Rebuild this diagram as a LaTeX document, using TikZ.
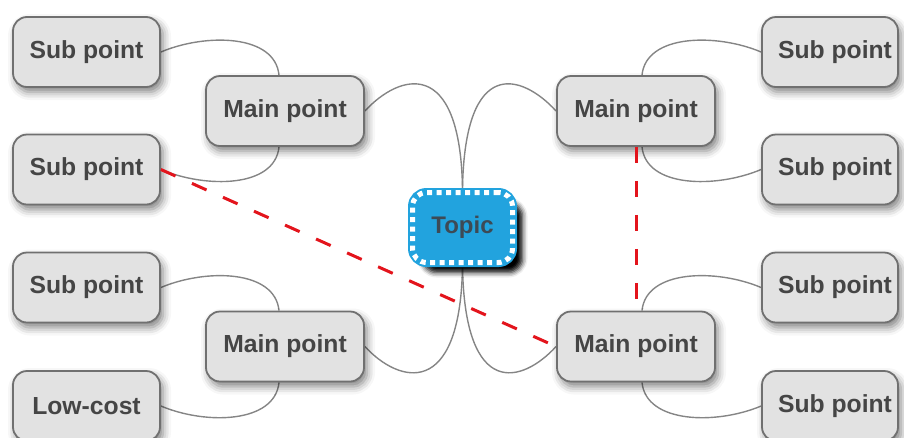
\documentclass[tikz,border=0pt]{standalone}
\usepackage{fontspec}
\setmainfont{Liberation Sans}
\usetikzlibrary{shadows.blur}
\definecolor{boxfill}{HTML}{E2E2E2}
\definecolor{boxline}{HTML}{707070}
\definecolor{boxtext}{HTML}{454545}
\definecolor{topicblue}{HTML}{22A3DE}
\definecolor{topictext}{HTML}{3D4A55}
\definecolor{linkgray}{HTML}{858585}
\definecolor{relred}{HTML}{E3141C}
\pgfdeclarelayer{bg}
\pgfsetlayers{bg,main}
\begin{document}
\begin{tikzpicture}[x=1pt,y=-1pt,
  box/.style={draw=boxline, line width=1.8pt, fill=boxfill, rounded corners=14pt,
    minimum height=70pt, inner sep=0pt, text=boxtext,
    font=\fontsize{24.7}{28}\selectfont\bfseries,
    blur shadow={shadow xshift=3pt, shadow yshift=-5pt, shadow blur radius=8pt, shadow opacity=50}},
  subbox/.style={box, minimum width=147pt},
  subboxr/.style={box, minimum width=136pt},
  mainbox/.style={box, minimum width=158pt},
  topicbox/.style={fill=topicblue, draw=topicblue, line width=9pt, rounded corners=14pt,
    minimum width=100pt, minimum height=70pt, inner sep=0pt, text=topictext,
    font=\fontsize{24}{28}\selectfont\bfseries,
    blur shadow={shadow xshift=10pt, shadow yshift=-10pt, shadow opacity=100, shadow blur radius=5pt},
    postaction={draw=white, line width=5pt, dash pattern=on 5pt off 4.5pt}},
  link/.style={draw=linkgray, line width=1.4pt},
  rel/.style={draw=relred, line width=3pt, dash pattern=on 16pt off 18pt}]
\useasboundingbox (0,0) rectangle (904,437);

% main points
\node[mainbox] (lm)  at (285,111)   {Main point};
\node[mainbox] (lbm) at (285,346.5) {Main point};
\node[mainbox] (rm)  at (636,111)   {Main point};
\node[mainbox] (rbm) at (636,346.5) {Main point};

% sub points left
\node[subbox] (s1) at (86.5,52)    {Sub point};
\node[subbox] (s2) at (86.5,169.5) {Sub point};
\node[subbox] (s3) at (86.5,287.5) {Sub point};
\node[subbox] (s4) at (86.5,406)   {Low-cost};

% sub points right
\node[subboxr] (r1) at (830,52)    {\hspace*{10pt}Sub point};
\node[subboxr] (r2) at (830,169.5) {\hspace*{10pt}Sub point};
\node[subboxr] (r3) at (830,287.5) {\hspace*{10pt}Sub point};
\node[subboxr] (r4) at (830,406)   {\hspace*{10pt}Sub point};

% topic
\node[topicbox] (topic) at (462.5,227.5) {Topic};

\begin{pgfonlayer}{bg}
  % topic to main points
  \draw[link] (topic.north) .. controls +(-2.5,-133) and +(34,-37) .. (lm.east);
  \draw[link] (topic.north) .. controls +(2.5,-133) and +(-34,-37) .. (rm.west);
  \draw[link] (topic.south) .. controls +(-2.5,133) and +(34,37) .. (lbm.east);
  \draw[link] (topic.south) .. controls +(2.5,133) and +(-34,37) .. (rbm.west);
  % main to sub, left
  \draw[link] ([xshift=-6pt]lm.north) .. controls +(-4,-41) and +(45,-19) .. (s1.east);
  \draw[link] ([xshift=-6pt]lm.south) .. controls +(-4,41) and +(45,19) .. (s2.east);
  \draw[link] ([xshift=-6pt]lbm.north) .. controls +(-4,-41) and +(45,-19) .. (s3.east);
  \draw[link] ([xshift=-6pt]lbm.south) .. controls +(-4,41) and +(45,19) .. (s4.east);
  % main to sub, right
  \draw[link] ([xshift=6pt]rm.north) .. controls +(4,-41) and +(-45,-19) .. (r1.west);
  \draw[link] ([xshift=6pt]rm.south) .. controls +(4,41) and +(-45,19) .. (r2.west);
  \draw[link] ([xshift=6pt]rbm.north) .. controls +(4,-41) and +(-45,-19) .. (r3.west);
  \draw[link] ([xshift=6pt]rbm.south) .. controls +(4,41) and +(-45,19) .. (r4.west);
\end{pgfonlayer}

% relationships
\draw[rel] (s2.east) -- (rbm.west);
\draw[rel] (rm.south) -- (rbm.north);
\end{tikzpicture}
\end{document}
